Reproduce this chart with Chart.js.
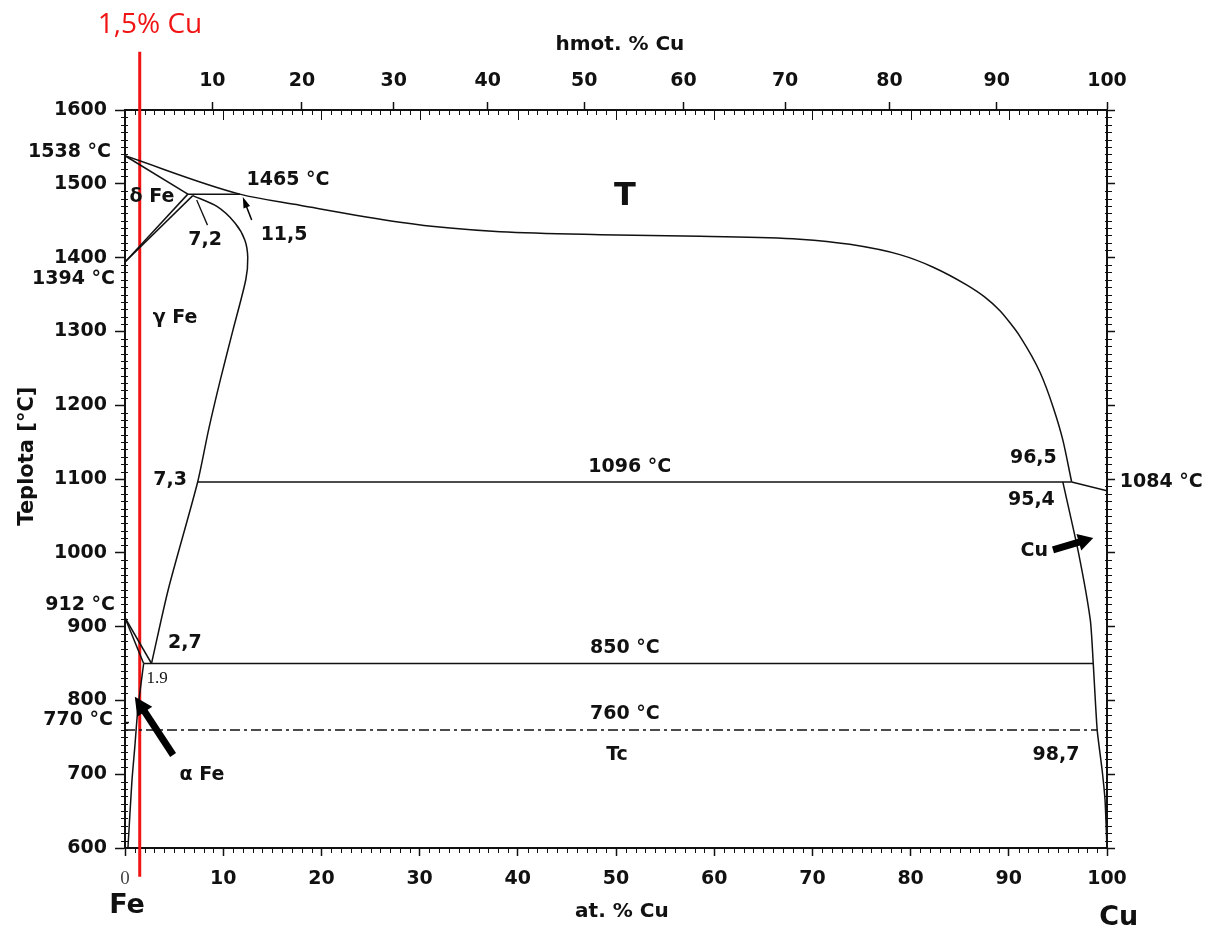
<!DOCTYPE html>
<html lang="cs">
<head>
<meta charset="UTF-8">
<title>Fe-Cu</title>
<script src="https://cdn.jsdelivr.net/npm/chart.js"></script>
<style>
  body { margin: 0; background: #fff; }
  canvas { display: block; }
</style>
</head>
<body>
<canvas id="graf" width="1212" height="930"></canvas>
<script>
// x = at. % Cu, y = teplota °C
const liquidusX = [0, 11.7, 17.8, 28.0, 33.1, 38.2, 48.4, 58.6, 68.7, 73.8, 78.9, 82.3, 85.7, 87.5, 89.1, 90.1, 91.1, 93.2, 94.5, 95.5, 96.4];
const liquidusT = [1538, 1486, 1471, 1448, 1440, 1435, 1431, 1429, 1425, 1418, 1404, 1387, 1363, 1347, 1328, 1312, 1294, 1244, 1198, 1153, 1096];
const deltaSolidusX = [0, 6.4];
const deltaSolidusT = [1538, 1486];
const peritektikaX = [6.4, 11.7];
const peritektikaT = [1486, 1486];
const deltaGamaX = [0, 6.4];
const deltaGamaT = [1394, 1486];
const gamaDeltaX = [0, 6.9];
const gamaDeltaT = [1394, 1484];
const gamaX = [6.9, 9.4, 11.2, 12.2, 12.5, 12.3, 11.0, 9.7, 8.5, 7.4, 4.4, 2.7];
const gamaT = [1484, 1469, 1447, 1424, 1400, 1370, 1302, 1234, 1166, 1096, 950, 850];
const eutektikaX = [7.4, 96.4];
const eutektikaT = [1096, 1096];
const cuLiqX = [96.4, 100];
const cuLiqT = [1096, 1084];
const cuSolvusX = [95.5, 97.1, 98.3, 98.6, 99.0, 99.5, 99.8, 100];
const cuSolvusT = [1096, 1000, 909, 850, 760, 706, 665, 600];
const eutektoidX = [1.9, 98.6];
const eutektoidT = [850, 850];
const alfaGamaX = [0, 2.7];
const alfaGamaT = [912, 850];
const alfaGama2X = [0, 1.9];
const alfaGama2T = [912, 850];
const alfaSolvusX = [1.9, 1.3, 1.0, 0.7, 0.3];
const alfaSolvusT = [850, 787, 737, 690, 600];
const curieX = [0, 99.0];
const curieT = [760, 760];
const curieFeX = [0, 0.5];
const curieFeT = [770, 770];
const slozeniX = [1.5, 1.5];
const slozeniT = [1679, 561];

const weightTicks = [10, 20, 30, 40, 50, 60, 70, 80, 90, 100];

// hmot. % -> at. %
function wtToAt(w) {
  const cu = w / 63.55, fe = (100 - w) / 55.85;
  return 100 * cu / (cu + fe);
}

const line = (xs, ts, extra) => Object.assign({
  data: xs.map((v, i) => ({ x: v, y: ts[i] })),
  showLine: true,
  borderColor: '#111',
  borderWidth: 1.5,
  pointRadius: 0,
  fill: false
}, extra || {});

// popisky: text, x (at.%), y (°C), zarovnani, font
const popisky = [
  ['1538 °C', -1.43, 1543, 'right'],
  ['1394 °C', -1.02, 1371, 'right'],
  ['912 °C', -1.02, 929, 'right'],
  ['770 °C', -1.22, 773, 'right'],
  ['δ Fe', 2.75, 1482, 'center'],
  ['1465 °C', 16.6, 1505, 'center'],
  ['7,2', 8.15, 1424, 'center'],
  ['11,5', 16.2, 1431, 'center'],
  ['T', 50.9, 1482, 'center', 'bold 32px "DejaVu Sans"'],
  ['γ Fe', 5.1, 1318, 'center'],
  ['7,3', 4.6, 1099, 'center'],
  ['1096 °C', 51.4, 1116, 'center'],
  ['96,5', 92.5, 1128, 'center'],
  ['95,4', 92.3, 1072, 'center'],
  ['1084 °C', 101.3, 1096, 'left'],
  ['Cu', 92.6, 1002, 'center'],
  ['2,7', 6.1, 878, 'center'],
  ['850 °C', 50.9, 871, 'center'],
  ['1.9', 3.26, 830, 'center', '17px "Liberation Serif"'],
  ['760 °C', 50.9, 782, 'center'],
  ['α Fe', 7.84, 699, 'center'],
  ['Tc', 50.1, 726, 'center'],
  ['98,7', 94.8, 726, 'center'],
  ['Fe', 0.2, 521, 'center', 'bold 27px "DejaVu Sans"'],
  ['Cu', 101.2, 505, 'center', 'bold 27px "DejaVu Sans"'],
  ['hmot. % Cu', 50.4, 1688, 'center', 'bold 20px "DejaVu Sans"'],
  ['at. % Cu', 50.6, 513, 'center', 'bold 20px "DejaVu Sans"'],
  ['1,5% Cu', 2.55, 1715, 'center', '28px "Open Sans"', '#f01414']
];

// sipky: x1, y1, x2 (hrot), y2, sirka, delka hrotu, sirka hrotu
const sipky = [
  [4.9, 726, 1.0, 805, 7, 18, 18],
  [94.5, 1004, 98.6, 1020, 7, 15, 17],
  [12.9, 1451, 12.0, 1482, 1.5, 11, 7]
];
const ukazatel = [7.3, 1478, 8.4, 1444];

const doplnky = {
  id: 'doplnky',
  afterDraw(chart) {
    const { ctx, chartArea: a, scales: { x, y } } = chart;
    ctx.save();
    ctx.strokeStyle = '#111';
    ctx.lineWidth = 1;
    ctx.beginPath();
    // vedlejsi znacky na svislych osach
    for (let t = 600; t <= 1600; t += 10) {
      if (t % 100 === 0) continue;
      const py = Math.round(y.getPixelForValue(t)) + 0.5;
      ctx.moveTo(a.left - 4, py); ctx.lineTo(a.left + 3, py);
      ctx.moveTo(a.right - 2, py); ctx.lineTo(a.right + 5, py);
    }
    // vedlejsi znacky na vodorovnych osach
    for (let v = 0; v <= 100; v += 1) {
      const px = Math.round(x.getPixelForValue(v)) + 0.5;
      const hlavni = v % 10 === 0;
      if (!hlavni) {
        ctx.moveTo(px, a.bottom); ctx.lineTo(px, a.bottom + 5);
      }
      ctx.moveTo(px, a.top); ctx.lineTo(px, a.top + (hlavni ? 10 : 5));
    }
    ctx.stroke();

    // ukazatel 7,2
    ctx.lineWidth = 1.3;
    ctx.beginPath();
    ctx.moveTo(x.getPixelForValue(ukazatel[0]), y.getPixelForValue(ukazatel[1]));
    ctx.lineTo(x.getPixelForValue(ukazatel[2]), y.getPixelForValue(ukazatel[3]));
    ctx.stroke();

    // sipky
    ctx.fillStyle = '#000';
    ctx.strokeStyle = '#000';
    sipky.forEach(([x1, y1, x2, y2, w, hl, hw]) => {
      const p1 = [x.getPixelForValue(x1), y.getPixelForValue(y1)];
      const p2 = [x.getPixelForValue(x2), y.getPixelForValue(y2)];
      const ang = Math.atan2(p2[1] - p1[1], p2[0] - p1[0]);
      const bx = p2[0] - hl * Math.cos(ang), by = p2[1] - hl * Math.sin(ang);
      ctx.lineWidth = w;
      ctx.beginPath();
      ctx.moveTo(p1[0], p1[1]);
      ctx.lineTo(bx + Math.cos(ang), by + Math.sin(ang));
      ctx.stroke();
      ctx.beginPath();
      ctx.moveTo(p2[0], p2[1]);
      ctx.lineTo(bx + hw / 2 * Math.sin(ang), by - hw / 2 * Math.cos(ang));
      ctx.lineTo(bx - hw / 2 * Math.sin(ang), by + hw / 2 * Math.cos(ang));
      ctx.closePath();
      ctx.fill();
    });

    // texty
    ctx.textBaseline = 'middle';
    popisky.forEach(([txt, xv, yv, al, font, barva]) => {
      ctx.font = font || 'bold 19px "DejaVu Sans"';
      ctx.fillStyle = barva || '#111';
      ctx.textAlign = al;
      ctx.fillText(txt, x.getPixelForValue(xv), y.getPixelForValue(yv));
    });

    // popis svisle osy
    ctx.save();
    ctx.translate(x.getPixelForValue(-9.88), y.getPixelForValue(1131));
    ctx.rotate(-Math.PI / 2);
    ctx.font = 'bold 21px "DejaVu Sans"';
    ctx.fillStyle = '#111';
    ctx.textAlign = 'center';
    ctx.fillText('Teplota [°C]', 0, 0);
    ctx.restore();

    ctx.restore();
  }
};

const osa = {
  drawOnChartArea: false,
  drawTicks: true,
  tickLength: 8,
  color: '#111',
  tickWidth: 1.5
};
const okraj = { color: '#111', width: 2 };
const pismo = { family: 'DejaVu Sans', size: 19, weight: 'bold' };

new Chart(document.getElementById('graf'), {
  type: 'scatter',
  data: {
    datasets: [
      line(liquidusX, liquidusT, { cubicInterpolationMode: 'monotone' }),
      line(deltaSolidusX, deltaSolidusT),
      line(peritektikaX, peritektikaT),
      line(deltaGamaX, deltaGamaT),
      line(gamaDeltaX, gamaDeltaT),
      line(gamaX, gamaT, { tension: 0.25 }),
      line(eutektikaX, eutektikaT),
      line(cuLiqX, cuLiqT),
      line(cuSolvusX, cuSolvusT, { tension: 0.2 }),
      line(eutektoidX, eutektoidT),
      line(alfaGamaX, alfaGamaT),
      line(alfaGama2X, alfaGama2T),
      line(alfaSolvusX, alfaSolvusT, { tension: 0.2 }),
      line(curieX, curieT, { borderDash: [10, 4, 3, 4] }),
      line(curieFeX, curieFeT, { borderDash: [4, 3] }),
      line(slozeniX, slozeniT, { borderColor: '#f01414', borderWidth: 3, clip: false })
    ]
  },
  options: {
    responsive: false,
    animation: false,
    devicePixelRatio: 1,
    layout: { padding: 0 },
    plugins: { legend: { display: false }, tooltip: { enabled: false } },
    scales: {
      x: {
        type: 'linear', position: 'bottom', min: 0, max: 100,
        afterFit: s => { s.height = 82; },
        ticks: {
          stepSize: 10, padding: 12, maxRotation: 0, autoSkip: false,
          callback: v => String(v),
          color: c => (c.tick && c.tick.value === 0) ? '#444' : '#111',
          font: c => (c.tick && c.tick.value === 0)
            ? { family: 'Liberation Serif', size: 19, weight: 'normal' }
            : pismo
        },
        grid: osa,
        border: okraj
      },
      xTop: {
        type: 'linear', position: 'top', min: 0, max: 100,
        afterFit: s => { s.height = 110; },
        afterBuildTicks: s => { s.ticks = weightTicks.map(w => ({ value: wtToAt(w) })); },
        ticks: {
          padding: 10, maxRotation: 0, autoSkip: false, color: '#111', font: pismo,
          callback: (v, i) => String(weightTicks[i])
        },
        grid: osa,
        border: okraj
      },
      y: {
        type: 'linear', position: 'left', min: 600, max: 1600,
        afterFit: s => { s.width = 125; },
        ticks: { stepSize: 100, padding: 8, color: '#111', font: pismo, callback: v => String(v) },
        grid: Object.assign({}, osa, { tickLength: 10 }),
        border: okraj
      },
      y2: {
        type: 'linear', position: 'right', min: 600, max: 1600,
        afterFit: s => { s.width = 105; },
        ticks: { stepSize: 100, display: false },
        grid: osa,
        border: okraj
      }
    }
  },
  plugins: [doplnky]
});
</script>
</body>
</html>
